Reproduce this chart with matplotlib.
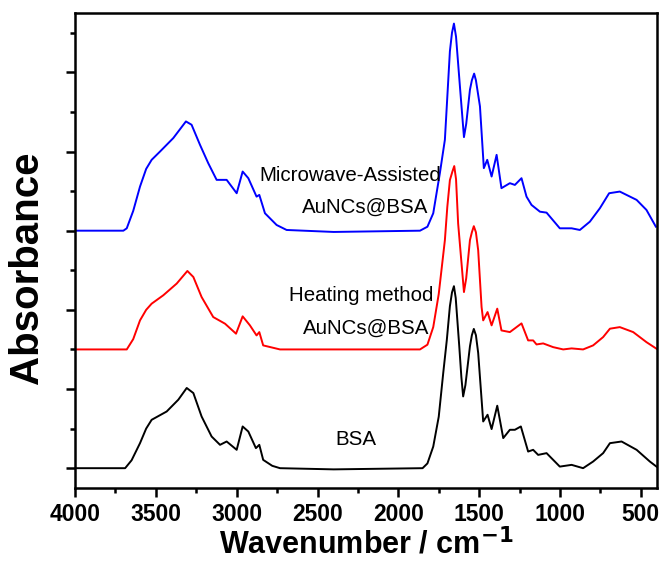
import matplotlib.pyplot as plt
from matplotlib.ticker import MultipleLocator

plt.rcParams['font.family'] = ['Liberation Sans', 'DejaVu Sans']

# FTIR spectra (wavenumber in cm^-1, absorbance in stacked arbitrary units)
bsa_wn = [4000, 3700, 3690, 3650, 3598, 3560, 3526, 3433, 3361, 3309, 3268, 3217,
          3155, 3103, 3062, 3000, 2963, 2928, 2881, 2860, 2836, 2780, 2732, 2400,
          1850, 1820, 1784, 1750, 1722, 1700, 1681, 1668, 1656, 1645, 1623, 1610,
          1599, 1585, 1557, 1545, 1533, 1520, 1506, 1475, 1448, 1423, 1388, 1351,
          1310, 1279, 1242, 1197, 1166, 1135, 1083, 1001, 928, 857, 795, 733,
          691, 619, 526, 444, 403]
bsa_abs = [0, 0, 0, 0.10, 0.316, 0.50, 0.611, 0.716, 0.865, 1.013, 0.949, 0.653,
           0.40, 0.295, 0.337, 0.232, 0.527, 0.463, 0.253, 0.295, 0.105, 0.03, 0, -0.015,
           0, 0.06, 0.273, 0.65, 1.206, 1.62, 2.046, 2.22, 2.299, 2.15, 1.539, 1.15,
           0.906, 1.05, 1.539, 1.68, 1.759, 1.68, 1.456, 0.59, 0.675, 0.494, 0.789, 0.38,
           0.485, 0.485, 0.527, 0.21, 0.232, 0.168, 0.19, 0.02, 0.042, 0, 0.084, 0.19,
           0.316, 0.337, 0.232, 0.084, 0.02]

heat_wn = [4000, 3680, 3640, 3598, 3560, 3526, 3454, 3371, 3305, 3268, 3217, 3145,
           3072, 3004, 2963, 2918, 2877, 2860, 2836, 2732, 1866, 1820, 1784, 1750,
           1712, 1697, 1681, 1665, 1654, 1643, 1630, 1594, 1580, 1557, 1545, 1533,
           1520, 1506, 1485, 1475, 1448, 1423, 1388, 1362, 1310, 1279, 1238, 1197,
           1166, 1145, 1104, 1042, 980, 928, 857, 795, 733, 691, 630, 547,
           465, 403]
heat_abs = [0, 0, 0.13, 0.367, 0.50, 0.578, 0.684, 0.832, 0.991, 0.915, 0.662, 0.409,
            0.325, 0.199, 0.418, 0.304, 0.177, 0.219, 0.051, 0, 0, 0.06, 0.282, 0.70,
            1.38, 1.80, 2.139, 2.25, 2.316, 2.15, 1.591, 0.725, 0.90, 1.38, 1.48, 1.557,
            1.48, 1.253, 0.535, 0.367, 0.472, 0.304, 0.515, 0.24, 0.219, 0.266, 0.329, 0.114,
            0.114, 0.063, 0.076, 0.029, 0, 0.013, 0, 0.051, 0.156, 0.262, 0.282, 0.219,
            0.092, 0.009]

mw_wn = [4000, 3701, 3680, 3640, 3598, 3560, 3526, 3474, 3392, 3314, 3279, 3227,
         3176, 3124, 3062, 3000, 2963, 2928, 2877, 2860, 2825, 2753, 2691, 2400,
         1866, 1820, 1784, 1743, 1712, 1681, 1668, 1656, 1643, 1619, 1594, 1580,
         1557, 1545, 1531, 1520, 1495, 1471, 1450, 1423, 1392, 1362, 1310, 1279,
         1238, 1207, 1176, 1124, 1083, 1001, 928, 877, 815, 753, 696, 630,
         526, 465, 407]
mw_abs = [0, 0, 0.03, 0.25, 0.557, 0.78, 0.895, 1.0, 1.17, 1.38, 1.338, 1.085,
          0.853, 0.642, 0.642, 0.473, 0.747, 0.663, 0.43, 0.452, 0.22, 0.072, 0.009, -0.016,
          0, 0.05, 0.22, 0.727, 1.148, 2.266, 2.50, 2.616, 2.45, 1.823, 1.182, 1.35,
          1.78, 1.90, 1.984, 1.90, 1.57, 0.79, 0.895, 0.684, 0.958, 0.537, 0.6, 0.578,
          0.663, 0.43, 0.325, 0.24, 0.228, 0.03, 0.03, 0.009, 0.114, 0.284, 0.473, 0.494,
          0.389, 0.262, 0.051]

offsets = [0.0, 1.5, 3.0]

fig = plt.figure(figsize=(6.61, 5.69), dpi=100)
ax = fig.add_axes([0.1135, 0.1424, 0.8804, 0.8348])

ax.plot(bsa_wn, [v + offsets[0] for v in bsa_abs], color='black', lw=1.4)
ax.plot(heat_wn, [v + offsets[1] for v in heat_abs], color='#ff0000', lw=1.4)
ax.plot(mw_wn, [v + offsets[2] for v in mw_abs], color='#0000ff', lw=1.4)

ax.text(2300, 3.70, 'Microwave-Assisted', fontsize=14.8, ha='center', va='center')
ax.text(2205, 3.29, 'AuNCs@BSA', fontsize=14.8, ha='center', va='center')
ax.text(2232, 2.18, 'Heating method', fontsize=14.8, ha='center', va='center')
ax.text(2200, 1.77, 'AuNCs@BSA', fontsize=14.8, ha='center', va='center')
ax.text(2262, 0.36, 'BSA', fontsize=14.8, ha='center', va='center')

ax.set_xlim(4000, 400)
ax.set_ylim(-0.25, 5.75)
ax.xaxis.set_major_locator(MultipleLocator(500))
ax.xaxis.set_minor_locator(MultipleLocator(250))
ax.yaxis.set_major_locator(MultipleLocator(1))
ax.yaxis.set_minor_locator(MultipleLocator(0.5))
ax.set_yticklabels([])
ax.tick_params(which='both', direction='out', width=1.8, top=False, right=False)
ax.tick_params(which='major', length=6.5)
ax.tick_params(which='minor', length=3.6)
ax.tick_params(axis='x', labelsize=16.5, pad=4)
for lbl in ax.get_xticklabels():
    lbl.set_fontweight('bold')
for s in ax.spines.values():
    s.set_linewidth(1.8)

ax.set_xlabel('Wavenumber / cm$^{\\mathbf{-1}}$', fontsize=22, fontweight='bold', labelpad=2)
ax.set_ylabel('Absorbance', fontsize=29, fontweight='bold')
ax.yaxis.set_label_coords(-0.05, 0.463)

fig.savefig('out.png', dpi=100)
